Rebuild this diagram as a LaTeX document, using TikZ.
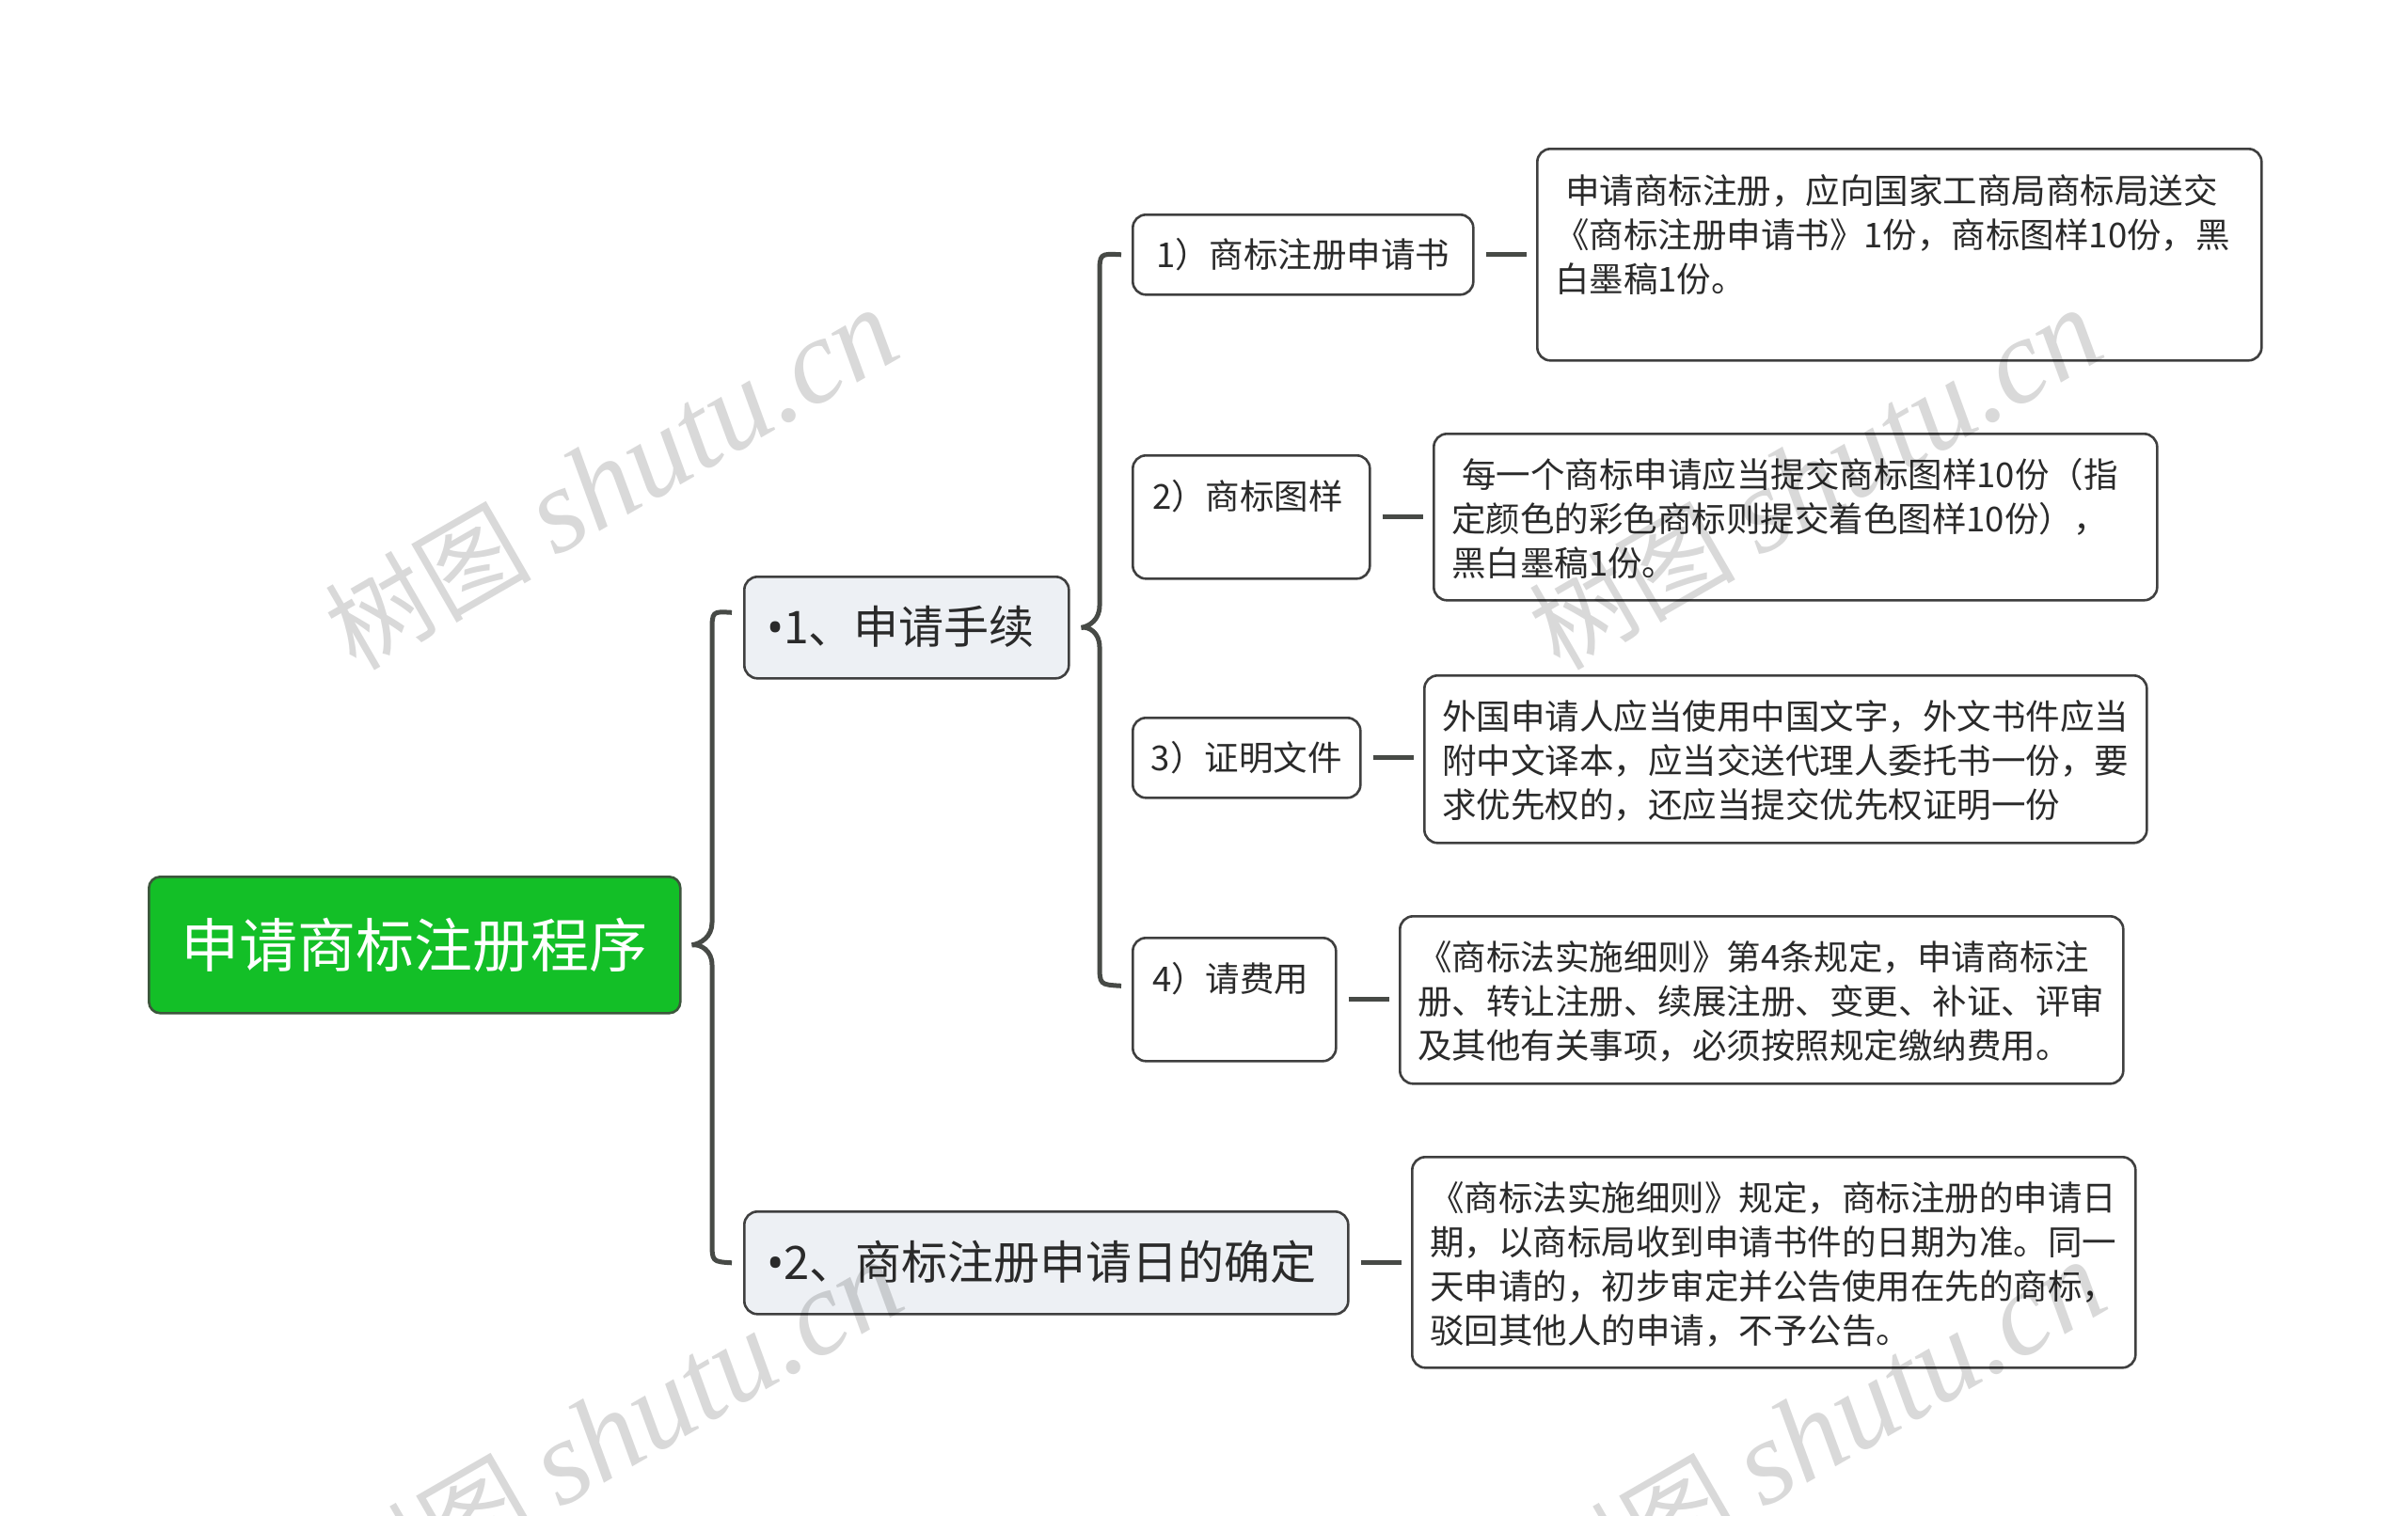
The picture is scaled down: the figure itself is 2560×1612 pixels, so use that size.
\documentclass[tikz,border=0pt]{standalone}
\usepackage{fontspec}
\setmainfont{Noto Sans CJK SC}
\newfontfamily\wmlatin{Liberation Serif}
\newfontfamily\latinf{Noto Sans}
\usetikzlibrary{calc}
\definecolor{rootgreen}{HTML}{13BF27}
\definecolor{rootborder}{HTML}{3C563C}
\definecolor{lfill}{HTML}{EDF0F4}
\definecolor{bord}{HTML}{3F3F3F}
\definecolor{conncol}{HTML}{474A46}
\definecolor{txt}{HTML}{2A2A2A}
\newcommand{\bul}{{\latinf •}}
\newcommand{\wmtext}{\fontsize{110}{110}\selectfont 树图 {\wmlatin\itshape\fontsize{128}{128}\selectfont shutu.cn}}
\begin{document}
\begin{tikzpicture}[x=1pt,y=-1pt,
  box/.style={draw=bord, line width=2.6pt, rounded corners=14pt, fill=white, inner sep=0pt, anchor=north west, text=txt},
  lvl/.style={box, fill=lfill},
  rootbox/.style={draw=rootborder, line width=2.6pt, rounded corners=12pt, fill=rootgreen, inner sep=0pt, anchor=north west, text=white, font=\fontsize{62}{62}\selectfont},
  conn/.style={draw=conncol, line width=5pt},
  lbl/.style={anchor=base west, inner sep=0pt, text=txt},
  subfont/.style={font=\fontsize{36.5}{47}\selectfont},
  wm/.style={text=black, opacity=0.15, rotate=30, inner sep=0pt}
]
\useasboundingbox (0,0) rectangle (2560,1612);
\fill[white] (0,0) rectangle (2560,1612);

% root and level-1 nodes
\node[rootbox, minimum width=565pt, minimum height=145pt] (root) at (157,931) {申请商标注册程序};
\node[lvl, minimum width=345pt, minimum height=108pt] (L1) at (790,612) {};
\node[lbl, font=\fontsize{48}{48}\selectfont] (L1t) at (815,684) {\bul1、申请手续};
\node[lvl, minimum width=642pt, minimum height=109pt] (L2) at (790,1287) {};
\node[lbl, font=\fontsize{49}{49}\selectfont] (L2t) at (815,1360) {\bul2、商标注册申请日的确定};

% sub nodes
\node[box, subfont, minimum width=362pt, minimum height=85pt] (s1) at (1203,227) {1）商标注册申请书};
\node[box, minimum width=252pt, minimum height=131pt] (s2) at (1203,483) {};
\node[lbl, subfont] (s2t) at (1225,541) {2）商标图样};
\node[box, subfont, minimum width=242pt, minimum height=85pt] (s3) at (1203,762) {3）证明文件};
\node[box, minimum width=216pt, minimum height=131pt] (s4) at (1203,996) {};
\node[lbl, subfont] (s4t) at (1225,1054) {4）请费用};

% detail boxes
\node[box, minimum width=770pt, minimum height=225pt] (d1) at (1633,157) {};
\node[lbl, subfont] (d1t) at (1653,216) {\begin{tabular}[t]{@{}l@{}}\hspace*{0.3em}申请商标注册，应向国家工商局商标局送交\\《商标注册申请书》1份，商标图样10份，黑\\白墨稿1份。\end{tabular}};
\node[box, minimum width=769pt, minimum height=177pt] (d2) at (1523,460) {};
\node[lbl, subfont] (d2t) at (1543,518) {\begin{tabular}[t]{@{}l@{}}\hspace*{0.3em}每一个商标申请应当提交商标图样10份（指\\定颜色的彩色商标则提交着色图样10份），\\黑白墨稿1份。\end{tabular}};
\node[box, minimum width=768pt, minimum height=178pt] (d3) at (1513,717) {};
\node[lbl, subfont] (d3t) at (1533,775) {\begin{tabular}[t]{@{}l@{}}外国申请人应当使用中国文字，外文书件应当\\附中文译本，应当交送代理人委托书一份，要\\求优先权的，还应当提交优先权证明一份\end{tabular}};
\node[box, minimum width=769pt, minimum height=178pt] (d4) at (1487,973) {};
\node[lbl, subfont] (d4t) at (1507,1031) {\begin{tabular}[t]{@{}l@{}}《商标法实施细则》第4条规定，申请商标注\\册、转让注册、续展注册、变更、补证、评审\\及其他有关事项，必须按照规定缴纳费用。\end{tabular}};
\node[box, minimum width=769pt, minimum height=224pt] (d5) at (1500,1229) {};
\node[lbl, subfont] (d5t) at (1520,1287) {\begin{tabular}[t]{@{}l@{}}《商标法实施细则》规定，商标注册的申请日\\期，以商标局收到申请书件的日期为准。同一\\天申请的，初步审定并公告使用在先的商标，\\驳回其他人的申请，不予公告。\end{tabular}};

% root brace
\coordinate (rb1) at ([xshift=-12pt,yshift=16pt]L1.west);
\coordinate (rtip) at ([xshift=11pt]root.east);
\coordinate (rb2) at ([xshift=-12pt]L2.west);
\draw[conn] (rb1) .. controls (757,650) .. (757,672) -- (757,981)
  .. controls (757,996) and (745,1003.5) .. (rtip)
  .. controls (745,1003.5) and (757,1011) .. (757,1026) -- (757,1320)
  .. controls (757,1341.5) .. (rb2);

% level-1 brace
\coordinate (sb1) at ([xshift=-11pt]s1.west);
\coordinate (stip) at ([xshift=12pt]L1.east);
\coordinate (sb2) at ([xshift=-11pt,yshift=14.5pt]s4.west);
\draw[conn] (sb1) .. controls (1169,269.5) .. (1169,292) -- (1169,644)
  .. controls (1169,659) and (1158,666) .. (stip)
  .. controls (1158,666) and (1169,673) .. (1169,688) -- (1169,1025)
  .. controls (1169,1047) .. (sb2);

% short connectors to details
\draw[conn] ([xshift=12pt]s1.east) -- ([xshift=-10pt]s1.east -| d1.west);
\draw[conn] ([xshift=12pt]s2.east) -- ([xshift=-10pt]s2.east -| d2.west);
\draw[conn] ([xshift=12pt]s3.east) -- ([xshift=-10pt]s3.east -| d3.west);
\draw[conn] ([xshift=12pt]s4.east) -- ([xshift=-10pt]s4.east -| d4.west);
\draw[conn] ([xshift=12pt]L2.east) -- ([xshift=-10pt]L2.east -| d5.west);

% watermarks
\node[wm] (wm1) at (650,510) {\wmtext};
\node[wm] (wm2) at (1930,510) {\wmtext};
\node[wm] (wm3) at (655,1522) {\wmtext};
\node[wm] (wm4) at (1934,1522) {\wmtext};
\end{tikzpicture}
\end{document}
